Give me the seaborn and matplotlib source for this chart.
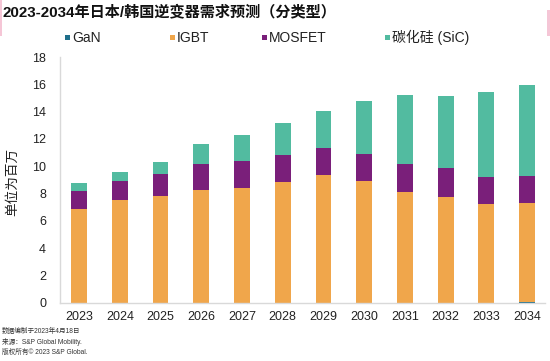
import matplotlib
matplotlib.use("Agg")
import matplotlib.pyplot as plt
import seaborn as sns
import numpy as np
import pandas as pd
from matplotlib.patches import Rectangle

years = ["2023", "2024", "2025", "2026", "2027", "2028", "2029", "2030", "2031", "2032", "2033", "2034"]
gan = [0.0, 0.0, 0.0, 0.0, 0.0, 0.0, 0.0, 0.0, 0.0, 0.0, 0.02, 0.06]
igbt = [6.88, 7.53, 7.85, 8.27, 8.39, 8.83, 9.34, 8.90, 8.12, 7.75, 7.20, 7.26]
mosfet = [1.34, 1.37, 1.56, 1.88, 2.00, 1.97, 2.02, 2.00, 2.03, 2.10, 2.02, 1.95]
sic = [0.54, 0.66, 0.93, 1.46, 1.88, 2.34, 2.71, 3.90, 5.07, 5.29, 6.17, 6.65]

series_names = ["GaN", "IGBT", "MOSFET", "碳化硅 (SiC)"]
colors = ["#1f6f8b", "#F0A64B", "#7A1F7A", "#52BBA0"]

sns.set_style("white")
plt.rcParams["font.family"] = ["Liberation Sans", "Noto Sans CJK SC", "DejaVu Sans"]

fig = plt.figure(figsize=(5.5, 3.61), dpi=100)
ax = fig.add_axes([0.109, 0.161, 0.882, 0.681])

df = pd.DataFrame({"year": years, "GaN": gan, "IGBT": igbt, "MOSFET": mosfet, "SiC": sic})
bottom = np.zeros(len(years))
for col, c in zip(["GaN", "IGBT", "MOSFET", "SiC"], colors):
    sns.barplot(data=df, x="year", y=col, order=years, color=c, width=0.39,
                bottom=bottom, ax=ax, saturation=1, edgecolor="none", linewidth=0)
    bottom = bottom + df[col].values

ax.set_ylim(0, 18)
ax.set_yticks(range(0, 19, 2))
ax.set_xlim(-0.47, 11.44)
ax.set_xlabel("")
ax.set_ylabel("")
fig.text(12 / 550, 1 - 182 / 361, "单位为百万", fontsize=9.8, color="#222222",
         rotation=90, ha="center", va="center")
ax.tick_params(axis="both", labelsize=9, colors="#222222", length=0)
ax.tick_params(axis="x", pad=6)
ax.tick_params(axis="y", pad=10)
for s in ["top", "right"]:
    ax.spines[s].set_visible(False)
for s in ["left", "bottom"]:
    ax.spines[s].set_color("#d9d9d9")
    ax.spines[s].set_linewidth(1.0)

# Title
fig.text(0.004, 0.968, "2023-2034年日本/韩国逆变器需求预测（分类型）", fontsize=10.9,
         fontweight="bold", ha="left", va="center", color="#111111")

# Legend (manual)
legend_x = [65, 170, 262, 385]
for xp, name, c in zip(legend_x, series_names, colors):
    fig.patches.append(Rectangle((xp / 550, 1 - 40 / 361), 5 / 550, 5 / 361,
                                 transform=fig.transFigure, facecolor=c, edgecolor="none"))
    fig.text((xp + 7) / 550, 1 - 37.5 / 361, name, fontsize=10, ha="left", va="center", color="#222222")

# Footnote
notes = ["数据编制于2023年4月18日", "来源：S&P Global Mobility.", "版权所有© 2023 S&P Global."]
for i, t in enumerate(notes):
    fig.text(0.004, 1 - (331 + i * 10.5) / 361, t, fontsize=4.8, ha="left", va="center", color="#333333")

# decorative pink edges
fig.patches.append(Rectangle((0, 1 - 36 / 361), 2 / 550, 36 / 361, transform=fig.transFigure,
                             facecolor="#f5c6d6", edgecolor="none"))
fig.patches.append(Rectangle((547 / 550, 1 - 36 / 361), 3 / 550, 26 / 361, transform=fig.transFigure,
                             facecolor="#f5c6d6", edgecolor="none"))

fig.savefig("out.png", dpi=100)
